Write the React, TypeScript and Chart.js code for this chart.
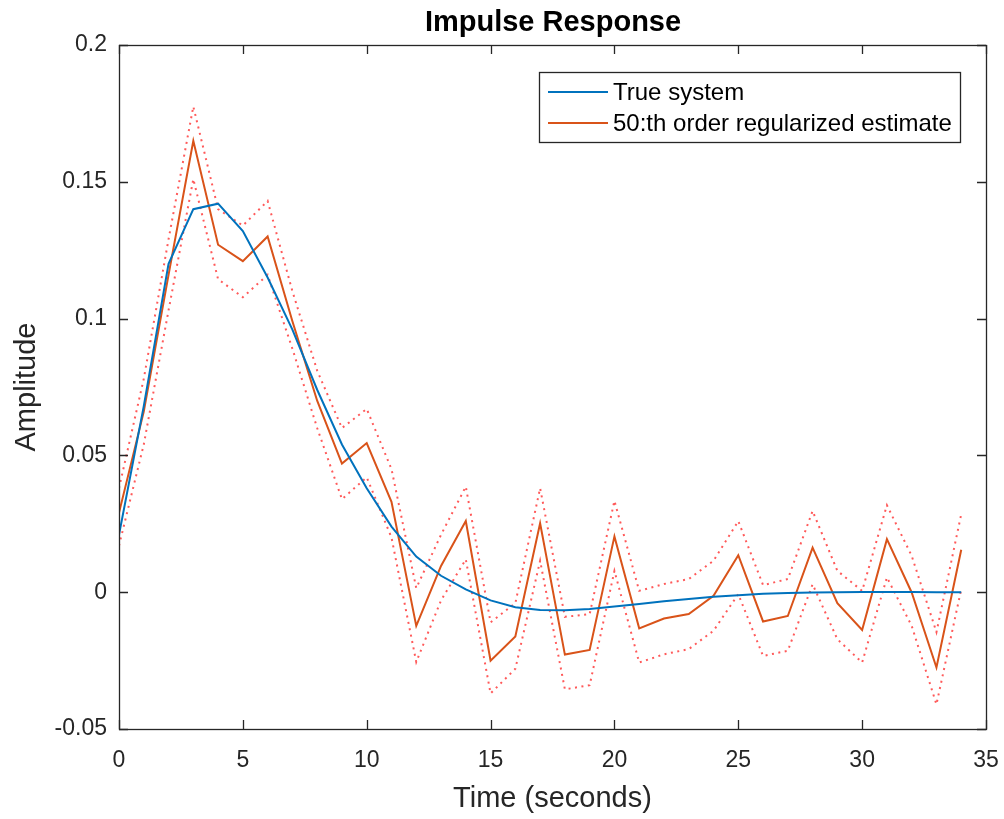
import React, { useEffect, useRef } from "react";
import { Chart, registerables } from "chart.js";

Chart.register(...registerables);

const time = [0, 1, 2, 3, 4, 5, 6, 7, 8, 9, 10, 11, 12, 13, 14, 15, 16, 17, 18, 19, 20, 21, 22, 23, 24, 25, 26, 27, 28, 29, 30, 31, 32, 33, 34];

const trueSystem = [0.021, 0.068, 0.12, 0.14, 0.142, 0.132, 0.115, 0.096, 0.074, 0.054, 0.038, 0.024, 0.013, 0.006, 0.001, -0.003, -0.0055, -0.0065, -0.0066, -0.0061, -0.0052, -0.0043, -0.0033, -0.0025, -0.0017, -0.0011, -0.0006, -0.0003, -0.0001, 0.0, 0.0001, 0.0001, 0.0001, 0.0, 0.0];

const estimate = [0.029, 0.066, 0.116, 0.165, 0.127, 0.121, 0.13, 0.099, 0.07, 0.047, 0.0545, 0.033, -0.0123, 0.0096, 0.026, -0.025, -0.0162, 0.0252, -0.0228, -0.0211, 0.0204, -0.0132, -0.0096, -0.008, -0.0013, 0.0135, -0.0107, -0.0087, 0.0163, -0.004, -0.0138, 0.0194, -0.0001, -0.0275, 0.0155];

const upperBound = [0.038, 0.078, 0.129, 0.1775, 0.14, 0.134, 0.143, 0.11, 0.081, 0.06, 0.067, 0.045, 0.0015, 0.021, 0.0386, -0.011, -0.004, 0.038, -0.009, -0.008, 0.0334, 0.0005, 0.003, 0.0048, 0.0115, 0.026, 0.0026, 0.0048, 0.0297, 0.0078, 0.0005, 0.0318, 0.0133, -0.0146, 0.0285];

const lowerBound = [0.017, 0.054, 0.103, 0.151, 0.1144, 0.1078, 0.116, 0.089, 0.06, 0.034, 0.042, 0.02, -0.0255, -0.003, 0.012, -0.037, -0.028, 0.0115, -0.0355, -0.034, 0.0078, -0.0257, -0.0227, -0.0208, -0.0141, -0.0007, -0.0233, -0.0214, 0.0029, -0.0172, -0.0257, 0.0054, -0.0123, -0.041, 0.0011];

const xTicks = [0, 5, 10, 15, 20, 25, 30, 35];
const yTicks = [-0.05, 0, 0.05, 0.1, 0.15, 0.2];
const yTickLabels = ["-0.05", "0", "0.05", "0.1", "0.15", "0.2"];

const seriesNames = ["True system", "50:th order regularized estimate"];
const titleText = "Impulse Response";
const xTitle = "Time (seconds)";
const yTitle = "Amplitude";

const FONT = "'Liberation Sans', Arial, Helvetica, sans-serif";
const AXIS_COLOR = "#262626";
const BLUE = "#0072BD";
const ORANGE = "#D95319";
const DOT = "rgba(255,0,0,0.65)";

const framePlugin = {
  id: "frame",
  afterDraw(chart: any) {
    const ctx = chart.ctx;
    const { left, right, top, bottom } = chart.chartArea;
    const xs = chart.scales.x;
    const ys = chart.scales.y;
    ctx.save();
    ctx.strokeStyle = AXIS_COLOR;
    ctx.lineWidth = 1.3;
    ctx.strokeRect(left + 0.5, top + 0.5, right - left, bottom - top);
    const tl = 9;
    ctx.beginPath();
    xTicks.forEach((v) => {
      const px = Math.round(xs.getPixelForValue(v)) + 0.5;
      ctx.moveTo(px, bottom);
      ctx.lineTo(px, bottom - tl);
      ctx.moveTo(px, top);
      ctx.lineTo(px, top + tl);
    });
    yTicks.forEach((v) => {
      const py = Math.round(ys.getPixelForValue(v)) + 0.5;
      ctx.moveTo(left, py);
      ctx.lineTo(left + tl, py);
      ctx.moveTo(right, py);
      ctx.lineTo(right - tl, py);
    });
    ctx.stroke();

    // title
    ctx.fillStyle = "#000";
    ctx.font = `bold 29px ${FONT}`;
    ctx.textAlign = "center";
    ctx.textBaseline = "alphabetic";
    ctx.fillText(titleText, 553, 31);

    // legend
    const lx = 539, ly = 72, lw = 421, lh = 70;
    ctx.fillStyle = "#fff";
    ctx.fillRect(lx, ly, lw, lh);
    ctx.strokeStyle = AXIS_COLOR;
    ctx.lineWidth = 1.3;
    ctx.strokeRect(lx + 0.5, ly + 0.5, lw, lh);
    const rows = [
      { y: 92, color: BLUE, text: seriesNames[0] },
      { y: 123, color: ORANGE, text: seriesNames[1] },
    ];
    ctx.font = `24px ${FONT}`;
    ctx.textAlign = "left";
    ctx.textBaseline = "middle";
    rows.forEach((r) => {
      ctx.strokeStyle = r.color;
      ctx.lineWidth = 2;
      ctx.beginPath();
      ctx.moveTo(548, r.y);
      ctx.lineTo(608, r.y);
      ctx.stroke();
      ctx.fillStyle = "#000";
      ctx.fillText(r.text, 613, r.y + 1);
    });
    ctx.restore();
  },
};

export default function App() {
  const ref = useRef<HTMLCanvasElement | null>(null);
  useEffect(() => {
    if (!ref.current) return;
    const mk = (vals: number[]) => time.map((t, i) => ({ x: t, y: vals[i] }));
    const chart = new Chart(ref.current, {
      type: "line",
      data: {
        datasets: [
          { label: seriesNames[0], data: mk(trueSystem), borderColor: BLUE, borderWidth: 2, pointRadius: 0, tension: 0, fill: false },
          { label: seriesNames[1], data: mk(estimate), borderColor: ORANGE, borderWidth: 2, pointRadius: 0, tension: 0, fill: false },
          { label: "upper", data: mk(upperBound), borderColor: DOT, borderWidth: 2, borderDash: [2, 4.5], pointRadius: 0, tension: 0, fill: false },
          { label: "lower", data: mk(lowerBound), borderColor: DOT, borderWidth: 2, borderDash: [2, 4.5], pointRadius: 0, tension: 0, fill: false },
        ],
      },
      options: {
        responsive: false,
        animation: false,
        devicePixelRatio: 1,
        layout: { padding: { left: 0, top: 45, right: 18, bottom: 0 } },
        plugins: { legend: { display: false }, tooltip: { enabled: false }, title: { display: false } },
        scales: {
          x: {
            type: "linear",
            min: 0,
            max: 35,
            afterBuildTicks: (s: any) => { s.ticks = xTicks.map((v) => ({ value: v })); },
            afterFit: (s: any) => { s.height = 90; s.paddingLeft = 0; s.paddingRight = 0; },
            grid: { display: false, drawTicks: false },
            border: { display: false },
            ticks: { color: AXIS_COLOR, font: { family: FONT, size: 23 }, padding: 18, autoSkip: false, maxRotation: 0, callback: (v: any) => String(v) },
            title: { display: true, text: xTitle, color: AXIS_COLOR, font: { family: FONT, size: 29 }, padding: { top: 0, bottom: 3 } },
          },
          y: {
            type: "linear",
            min: -0.05,
            max: 0.2,
            afterBuildTicks: (s: any) => { s.ticks = yTicks.map((v) => ({ value: v })); },
            afterFit: (s: any) => { s.width = 119; s.paddingTop = 0; s.paddingBottom = 0; },
            grid: { display: false, drawTicks: false },
            border: { display: false },
            ticks: {
              color: AXIS_COLOR,
              font: { family: FONT, size: 23 },
              padding: 12,
              autoSkip: false,
              callback: (v: any) => { const i = yTicks.findIndex((t) => Math.abs(t - v) < 1e-9); return i >= 0 ? yTickLabels[i] : ""; },
            },
            title: { display: true, text: yTitle, color: AXIS_COLOR, font: { family: FONT, size: 29 }, padding: { top: 10, bottom: 0 } },
          },
        },
      },
      plugins: [framePlugin],
    } as any);
    return () => chart.destroy();
  }, []);
  return (
    <div style={{ position: "absolute", left: 0, top: 0, width: 1004, height: 819, background: "#fff" }}>
      <canvas ref={ref} width={1004} height={819} style={{ width: 1004, height: 819, display: "block" }} />
    </div>
  );
}
